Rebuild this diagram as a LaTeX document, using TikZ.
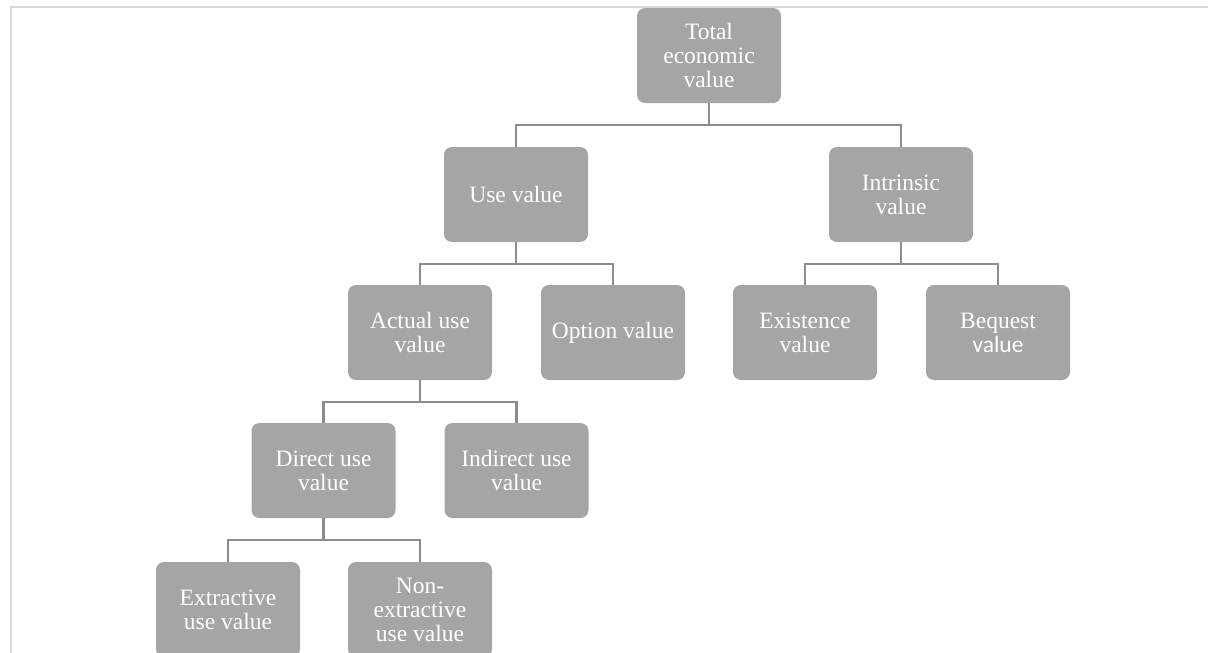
\documentclass[tikz,border=0pt]{standalone}
\usepackage{fontspec}
\setmainfont{Liberation Serif}
\newfontfamily\bequestfont{Carlito}
\usetikzlibrary{positioning}
\definecolor{boxgray}{HTML}{A5A5A5}
\definecolor{linkgray}{HTML}{8C8C8C}
\definecolor{framegray}{HTML}{D9D9D9}
\tikzset{valbox/.style={rectangle, fill=boxgray, rounded corners=8pt, minimum width=144pt, minimum height=95pt, inner sep=0pt, text=white, align=center, font=\fontsize{23.5}{24}\selectfont},
  link/.style={draw=linkgray, line width=2.5pt}}

\begin{document}
\begin{tikzpicture}[x=1pt,y=-1pt]
   \useasboundingbox (0,0) rectangle (1208,653);
   \clip (0,0) rectangle (1208,653);
   \draw[framegray,line width=1.5pt] (11,653) -- (11,7) -- (1208,7);
   \node[valbox] (tev) at (709,55.5) {Total\\economic\\value};
   \node[valbox] (use) at (516,194.5) {Use value};
   \node[valbox] (intr) at (901,194.5) {Intrinsic\\value};
   \node[valbox] (act) at (420,332.5) {Actual use\\value};
   \node[valbox] (opt) at (613,332.5) {Option value};
   \node[valbox] (exist) at (805,332.5) {Existence\\value};
   \node[valbox] (beq) at (998,332.5) {Bequest\\{\bequestfont value}};
   \node[valbox] (dir) at (323.5,470.5) {Direct use\\value};
   \node[valbox] (ind) at (516.5,470.5) {Indirect use\\value};
   \node[valbox] (ext) at (228,609.5) {Extractive\\use value};
   \node[valbox] (non) at (420,609.5) {Non-\\extractive\\use value};
   \draw[link] (tev.south) -- ++(0,22) -| (use.north);
   \draw[link] (tev.south) -- ++(0,22) -| (intr.north);
   \draw[link] (use.south) -- ++(0,22) -| (act.north);
   \draw[link] (use.south) -- ++(0,22) -| (opt.north);
   \draw[link] (intr.south) -- ++(0,22) -| (exist.north);
   \draw[link] (intr.south) -- ++(0,22) -| (beq.north);
   \draw[link] (act.south) -- ++(0,22) -| (dir.north);
   \draw[link] (act.south) -- ++(0,22) -| (ind.north);
   \draw[link] (dir.south) -- ++(0,22) -| (ext.north);
   \draw[link] (dir.south) -- ++(0,22) -| (non.north);
\end{tikzpicture}
\end{document}
